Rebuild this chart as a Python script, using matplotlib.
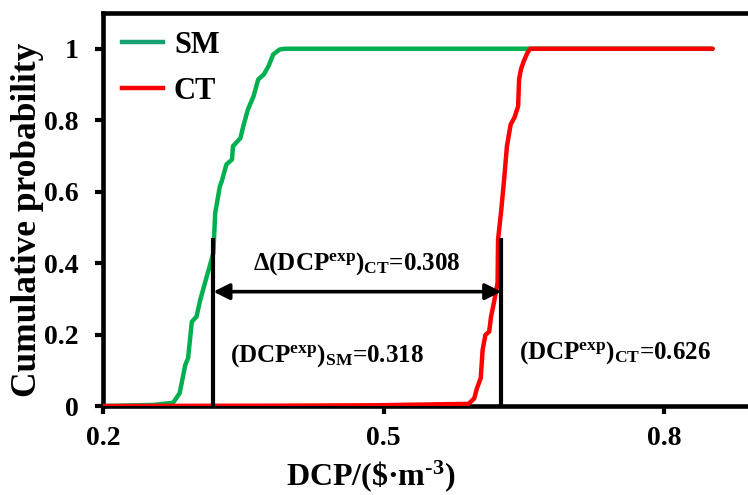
import matplotlib
matplotlib.use("Agg")
import matplotlib.pyplot as plt
from matplotlib.lines import Line2D

plt.rcParams['font.family'] = ['Liberation Serif', 'DejaVu Serif']
plt.rcParams['font.weight'] = 'bold'
plt.rcParams['mathtext.fontset'] = 'custom'
plt.rcParams['mathtext.rm'] = 'Liberation Serif:bold'
plt.rcParams['mathtext.bf'] = 'Liberation Serif:bold'
plt.rcParams['mathtext.it'] = 'Liberation Serif:bold'

# ---- data ----
sm_x = [0.200, 0.254, 0.275, 0.282, 0.288, 0.291, 0.295, 0.300, 0.304, 0.311,
        0.314, 0.318, 0.320, 0.325, 0.327, 0.332, 0.338, 0.339, 0.347, 0.350,
        0.355, 0.361, 0.366, 0.372, 0.377, 0.382, 0.389, 0.395, 0.852]
sm_y = [0.000, 0.003, 0.009, 0.036, 0.115, 0.134, 0.236, 0.250, 0.297, 0.363,
        0.390, 0.428, 0.540, 0.615, 0.629, 0.676, 0.690, 0.727, 0.750, 0.783,
        0.830, 0.867, 0.914, 0.928, 0.951, 0.984, 0.998, 1.000, 1.000]

ct_x = [0.200, 0.400, 0.490, 0.591, 0.597, 0.600, 0.604, 0.606, 0.609, 0.613,
        0.615, 0.618, 0.622, 0.6225, 0.626, 0.629, 0.632, 0.636, 0.640, 0.644,
        0.645, 0.647, 0.650, 0.654, 0.657, 0.852]
ct_y = [0.000, 0.001, 0.002, 0.006, 0.021, 0.050, 0.078, 0.157, 0.199, 0.208,
        0.250, 0.288, 0.344, 0.465, 0.550, 0.634, 0.727, 0.788, 0.807, 0.839,
        0.914, 0.942, 0.965, 0.989, 1.000, 1.000]

dcp_sm = 0.318
dcp_ct = 0.626
delta = 0.308
marker_top = 0.47
arrow_y = 0.32

x_ticks = [0.2, 0.5, 0.8]
x_ticklabels = ['0.2', '0.5', '0.8']
y_ticks = [0, 0.2, 0.4, 0.6, 0.8, 1.0]
y_ticklabels = ['0', '0.2', '0.4', '0.6', '0.8', '1']

green = '#00B050'
green_legend = '#17A070'
red = '#FF0000'

W, H = 748, 495
fig = plt.figure(figsize=(W / 100, H / 100), dpi=100)
ax = fig.add_axes([103 / W, 89 / H, 654.5 / W, 393 / H])

ax.plot(sm_x, sm_y, color=green, lw=3.2, solid_capstyle='round', solid_joinstyle='round', zorder=3)
ax.plot(ct_x, ct_y, color=red, lw=3.2, solid_capstyle='round', solid_joinstyle='round', zorder=4)

ax.plot([dcp_sm, dcp_sm], [0, marker_top], color='black', lw=3, zorder=5, solid_capstyle='butt')
ax.plot([dcp_ct, dcp_ct], [0, marker_top], color='black', lw=3, zorder=5, solid_capstyle='butt')
ax.annotate('', xy=(dcp_sm, arrow_y), xytext=(dcp_ct, arrow_y),
            arrowprops=dict(arrowstyle='<|-|>', color='black', lw=2.6,
                            mutation_scale=24, shrinkA=0, shrinkB=0), zorder=6)

tfs = 18
ax.text(0.4715, 0.381,
        r'Δ(DCP$^{\mathbf{exp}}$)$_{\mathbf{CT}}$=%.3f' % delta,
        ha='center', va='baseline', fontsize=tfs, fontweight='bold')
ax.text(0.440, 0.123, r'(DCP$^{\mathbf{exp}}$)$_{\mathbf{SM}}$=%.3f' % dcp_sm,
        ha='center', va='baseline', fontsize=tfs, fontweight='bold')
ax.text(0.748, 0.132, r'(DCP$^{\mathbf{exp}}$)$_{\mathbf{CT}}$=%.3f' % dcp_ct,
        ha='center', va='baseline', fontsize=tfs, fontweight='bold')

ax.set_xlim(0.2, 0.9)
ax.set_ylim(0, 1.1)
ax.set_xticks(x_ticks)
ax.set_xticklabels(x_ticklabels)
ax.set_yticks(y_ticks)
ax.set_yticklabels(y_ticklabels)
ax.tick_params(axis='both', direction='out', length=5.5, width=3, labelsize=20)
ax.tick_params(axis='y', pad=12)
ax.tick_params(axis='x', pad=9)
for lab in ax.get_xticklabels() + ax.get_yticklabels():
    lab.set_fontweight('bold')

for side in ['left', 'top', 'bottom']:
    ax.spines[side].set_linewidth(3.3)
ax.spines['right'].set_visible(False)

handles = [Line2D([], [], color=green_legend, lw=3.2, label='SM'),
           Line2D([], [], color=red, lw=3.2, label='CT')]
ax.legend(handles=handles, loc='upper left', bbox_to_anchor=(0.029, 0.954),
          borderaxespad=0, borderpad=0, frameon=False, handlelength=1.34,
          handletextpad=0.36, labelspacing=0.56,
          prop={'family': 'Liberation Serif', 'weight': 'bold', 'size': 22})

fig.text(28 / W, 1 - 219.5 / H, 'Cumulative probability', rotation=90,
         ha='center', va='center', fontsize=25.5, fontweight='bold')
fig.text(371 / W, 1 - 485 / H, 'DCP/(\\$·m$^{\\mathbf{\u20103}}$)', ha='center',
         va='baseline', fontsize=23, fontweight='bold')

fig.savefig('out.png', dpi=100)
